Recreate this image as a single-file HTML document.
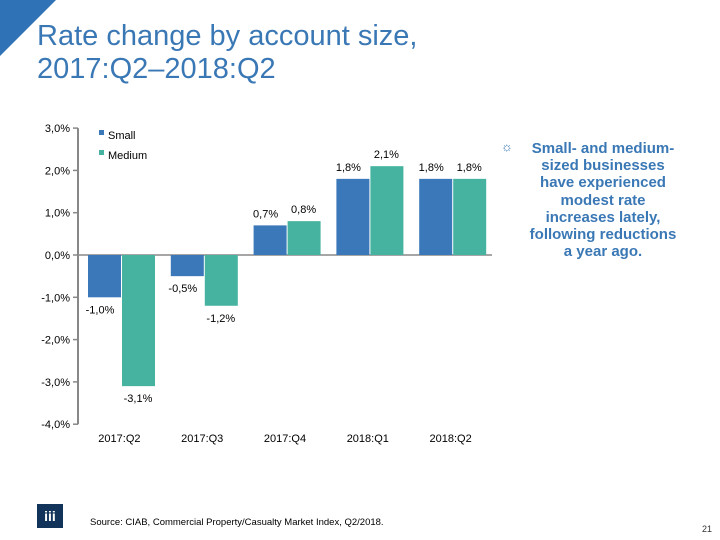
<!DOCTYPE html>
<html><head><meta charset="utf-8"><style>
body{margin:0;width:720px;height:540px;background:#fff;position:relative;overflow:hidden;font-family:"Liberation Sans",sans-serif}
.t{position:absolute;left:37px;top:20px;font-size:29px;line-height:33px;color:#3A78B5}
.note{position:absolute;left:513px;top:140px;width:180px;text-align:center;color:#3A78B5;font-weight:bold;font-size:15px;line-height:17.2px}
</style></head><body>
<svg width="60" height="60" style="position:absolute;left:0;top:0"><polygon points="0,0 56,0 0,56" fill="#2F73B6"/></svg>
<div class="t">Rate change by account size,<br>2017:Q2–2018:Q2</div>
<div class="note">Small- and medium-<br>sized businesses<br>have experienced<br>modest rate<br>increases lately,<br>following reductions<br>a year ago.</div>
<div style="position:absolute;left:501px;top:139px;color:#3A78B5;font-size:13px">☼</div>
<svg id="c" width="720" height="540" style="position:absolute;left:0;top:0"></svg>
<div style="position:absolute;left:37px;top:504px;width:26px;height:24px;background:#12345A;color:#fff;font-size:14px;font-weight:bold;text-align:center;line-height:24px">iii</div>
<div style="position:absolute;left:90px;top:517px;font-size:9.5px;color:#000">Source: CIAB, Commercial Property/Casualty Market Index, Q2/2018.</div>
<div style="position:absolute;left:702px;top:524px;font-size:9px;color:#333">21</div>
<script>
const categories=["2017:Q2","2017:Q3","2017:Q4","2018:Q1","2018:Q2"];
const small=[-1.0,-0.5,0.7,1.8,1.8];
const medium=[-3.1,-1.2,0.8,2.1,1.8];
const ticks=[3,2,1,0,-1,-2,-3,-4];
const ns="http://www.w3.org/2000/svg",svg=document.getElementById('c');
const x0=78,x1=492,cw=(x1-x0)/categories.length;
const y=v=>255-v*42.3;
function el(t,a,txt){const e=document.createElementNS(ns,t);for(const k in a)e.setAttribute(k,a[k]);if(txt!=null)e.textContent=txt;svg.appendChild(e);return e;}
const fmt=v=>v.toFixed(1).replace('.',',')+'%';
let ax=el('line',{x1:x0,x2:x0,y1:y(3),y2:y(-4),stroke:'#888','stroke-width':2});

ticks.forEach(t=>{
 let l=el('line',{x1:x0-5,x2:x0,y1:y(t),y2:y(t),stroke:'#888','stroke-width':1.5});
 
 let tx=el('text',{x:x0-8,y:y(t)+4,'text-anchor':'end','font-size':11,fill:'#000'},fmt(t));
 
});
let zl=el('line',{x1:x0,x2:x1,y1:y(0),y2:y(0),stroke:'#888','stroke-width':1.5});

categories.forEach((c,i)=>{
 const cx=x0+cw*i;
 let t=el('text',{x:cx+cw/2,y:442,'text-anchor':'middle','font-size':11},c);
 
 [[small,'#3A78B9',cx+10,-1],[medium,'#45B39F',cx+44,1]].forEach(([arr,col,bx,s])=>{
  const v=arr[i],top=Math.min(y(v),y(0)),h=Math.abs(y(v)-y(0));
  let r=el('rect',{x:bx,y:top,width:33,height:h,fill:col});
  
  const ly=v>=0?y(v)-8:y(v)+16;
  let lb=el('text',{x:bx+16+(s<0?-4:0),y:ly,'text-anchor':'middle','font-size':11},fmt(v));
  
 });
});
[['Small','#3A78B9',137],['Medium','#45B39F',157]].forEach(([n,c,yy])=>{
 let r=el('rect',{x:99,y:yy-7,width:5,height:5,fill:c});
 let t=el('text',{x:108,y:yy+2,'font-size':11},n);
});
</script>
</body></html>
